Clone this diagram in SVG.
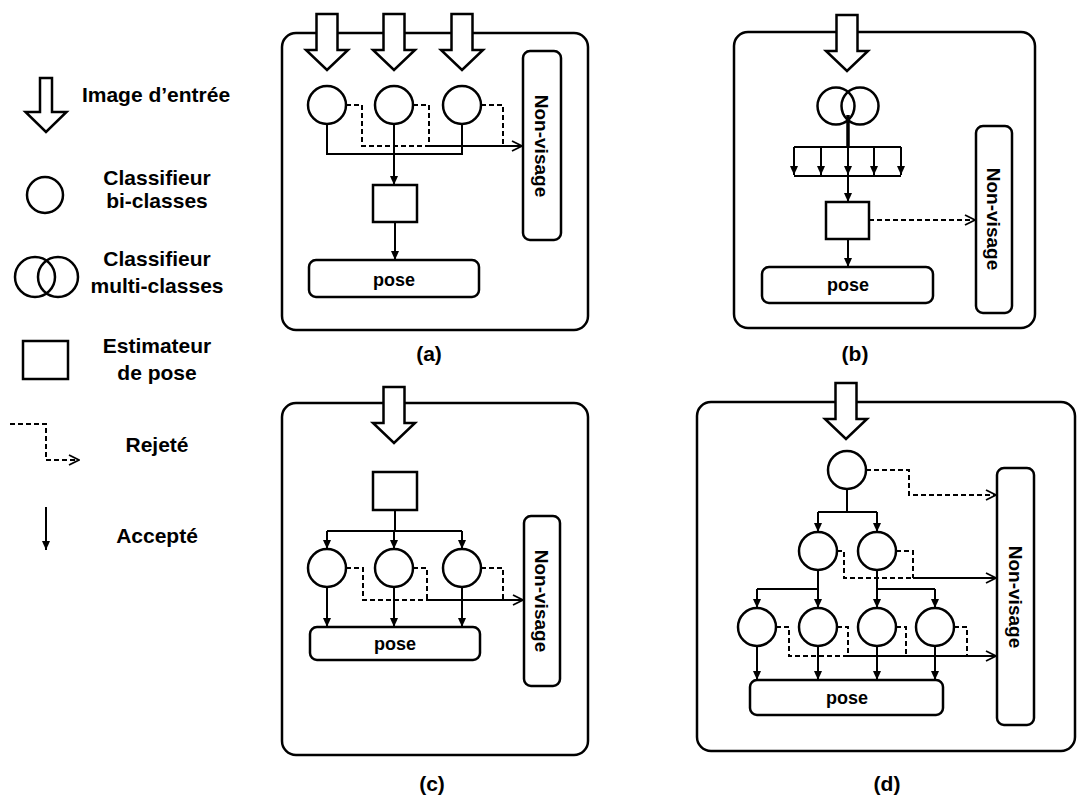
<svg xmlns="http://www.w3.org/2000/svg" width="1078" height="801" viewBox="0 0 1078 801">
<style>
.frame{fill:#fff;stroke:#000;stroke-width:2.5}
.sh{fill:#fff;stroke:#000;stroke-width:2.5}
.ln{fill:none;stroke:#000;stroke-width:2}
.dl{fill:none;stroke:#000;stroke-width:2;stroke-dasharray:5,3}
.fa{marker-end:url(#fa)}
.oa{marker-end:url(#oa)}
text{font-family:"Liberation Sans",Arial,Helvetica,sans-serif;font-weight:bold;fill:#000}
.lg{font-size:21px;text-anchor:middle}
.pl{font-size:18px;text-anchor:middle}
.nv{font-size:19px;text-anchor:middle}
.cap{font-size:21px;text-anchor:middle}
</style>
<defs>
<marker id="fa" viewBox="0 0 9 9" refX="9" refY="4.5" markerWidth="9" markerHeight="9" markerUnits="userSpaceOnUse" orient="auto"><path d="M0,0.5 L9,4.5 L0,8.5 Z" fill="#000"/></marker>
<marker id="oa" viewBox="0 0 12 12" refX="11" refY="6" markerWidth="12" markerHeight="12" markerUnits="userSpaceOnUse" orient="auto"><path d="M1,1 L11,6 L1,11" fill="none" stroke="#000" stroke-width="1.8"/></marker>
<path id="bigArrow" d="M-10.5,0 H10.5 V36 H21 L0,56 L-21,36 H-10.5 Z" class="sh"/>
</defs>

<!-- Legend -->
<g id="legend">
<g id="leg-input">
<path class="sh" d="M40,78 H52 V112 H66.5 L46,132 L25.5,112 H40 Z"/>
<text class="lg" x="156" y="102">Image d’entrée</text>
</g>
<g id="leg-bi">
<circle class="sh" cx="45" cy="195" r="18"/>
<text class="lg" x="157" y="185">Classifieur</text>
<text class="lg" x="157" y="208">bi-classes</text>
</g>
<g id="leg-multi">
<circle class="sh" cx="35" cy="277" r="20" fill="none" style="fill:none"/>
<circle class="sh" cx="58" cy="277" r="20" style="fill:none"/>
<text class="lg" x="157" y="266">Classifieur</text>
<text class="lg" x="157" y="293">multi-classes</text>
</g>
<g id="leg-est">
<rect class="sh" x="23" y="341" width="45" height="38"/>
<text class="lg" x="157" y="353">Estimateur</text>
<text class="lg" x="157" y="380">de pose</text>
</g>
<g id="leg-rej">
<path class="dl oa" d="M10,424 H46 V460 H79"/>
<text class="lg" x="157" y="452">Rejeté</text>
</g>
<g id="leg-acc">
<path class="ln fa" d="M46,507 V550"/>
<text class="lg" x="157" y="543">Accepté</text>
</g>
</g>

<!-- Panel (a) -->
<g id="panel-a">
<rect id="a-frame" class="frame" x="282" y="33" width="306" height="297" rx="14"/>
<g id="a-in1"><use href="#bigArrow" x="327" y="14"/></g>
<g id="a-in2"><use href="#bigArrow" x="394" y="14"/></g>
<g id="a-in3"><use href="#bigArrow" x="462" y="14"/></g>
<g id="a-c1"><circle class="sh" cx="327" cy="105" r="19"/></g>
<g id="a-c2"><circle class="sh" cx="394" cy="105" r="19"/></g>
<g id="a-c3"><circle class="sh" cx="462" cy="105" r="19"/></g>
<g id="a-est"><rect class="sh" x="373" y="185" width="44" height="37"/></g>
<g id="a-pose"><rect class="sh" x="309" y="260" width="170" height="37" rx="7"/><text class="pl" x="394" y="286">pose</text></g>
<g id="a-nv"><rect class="sh" x="523" y="51" width="38" height="189" rx="7"/><text class="nv" transform="translate(542,146) rotate(90)" x="0" y="7">Non-visage</text></g>
<text class="cap" x="429" y="361">(a)</text>
</g>

<!-- Panel (b) -->
<g id="panel-b">
<rect id="b-frame" class="frame" x="734" y="32" width="301" height="296" rx="14"/>
<g id="b-in"><use href="#bigArrow" x="847" y="15"/></g>
<g id="b-multi"><circle cx="836" cy="106" r="18.5" fill="none" stroke="#000" stroke-width="2.5"/><circle cx="860" cy="106" r="18.5" fill="none" stroke="#000" stroke-width="2.5"/></g>
<g id="b-est"><rect class="sh" x="826" y="202" width="43" height="37"/></g>
<g id="b-pose"><rect class="sh" x="762" y="267" width="171" height="36" rx="7"/><text class="pl" x="848" y="291">pose</text></g>
<g id="b-nv"><rect class="sh" x="976" y="126" width="36" height="187" rx="7"/><text class="nv" transform="translate(994,219) rotate(90)" x="0" y="7">Non-visage</text></g>
<text class="cap" x="855" y="361">(b)</text>
</g>

<!-- Panel (c) -->
<g id="panel-c">
<rect id="c-frame" class="frame" x="282" y="403" width="306" height="352" rx="14"/>
<g id="c-in"><use href="#bigArrow" x="394" y="387"/></g>
<g id="c-est"><rect class="sh" x="373" y="472" width="44" height="38"/></g>
<g id="c-c1"><circle class="sh" cx="327" cy="568" r="19"/></g>
<g id="c-c2"><circle class="sh" cx="394" cy="568" r="19"/></g>
<g id="c-c3"><circle class="sh" cx="462" cy="568" r="19"/></g>
<g id="c-pose"><rect class="sh" x="310" y="627" width="170" height="33" rx="7"/><text class="pl" x="395" y="650">pose</text></g>
<g id="c-nv"><rect class="sh" x="524" y="516" width="36" height="170" rx="7"/><text class="nv" transform="translate(542,601) rotate(90)" x="0" y="7">Non-visage</text></g>
<text class="cap" x="432" y="791">(c)</text>
</g>

<!-- Panel (d) -->
<g id="panel-d">
<rect id="d-frame" class="frame" x="697" y="402" width="378" height="349" rx="14"/>
<g id="d-in"><use href="#bigArrow" x="846" y="383"/></g>
<g id="d-c0"><circle class="sh" cx="847" cy="470" r="19"/></g>
<g id="d-c11"><circle class="sh" cx="818" cy="551" r="19"/></g>
<g id="d-c12"><circle class="sh" cx="877" cy="551" r="19"/></g>
<g id="d-c21"><circle class="sh" cx="757" cy="627" r="19"/></g>
<g id="d-c22"><circle class="sh" cx="818" cy="627" r="19"/></g>
<g id="d-c23"><circle class="sh" cx="877" cy="627" r="19"/></g>
<g id="d-c24"><circle class="sh" cx="935" cy="627" r="19"/></g>
<g id="d-pose"><rect class="sh" x="750" y="680" width="193" height="35" rx="7"/><text class="pl" x="847" y="704">pose</text></g>
<g id="d-nv"><rect class="sh" x="997" y="468" width="37" height="257" rx="7"/><text class="nv" transform="translate(1016,597) rotate(90)" x="0" y="7">Non-visage</text></g>
<text class="cap" x="887" y="791">(d)</text>
</g>

<!-- Connectors -->
<g id="connectors">
<!-- a -->
<path class="dl" d="M346,105 H362 V146 H429"/>
<path class="dl" d="M413,105 H429 V146"/>
<path class="dl" d="M481,105 H503 V146"/>
<path class="ln oa" d="M429,146 H522"/>
<path class="ln" d="M327,124 V154 H462 V124"/>
<path class="ln fa" d="M394,124 V185"/>
<path class="ln fa" d="M395,222 V260"/>
<!-- b -->
<path d="M848,115 V147" fill="none" stroke="#000" stroke-width="3.5"/>
<path class="ln" d="M794,147 H901"/>
<path class="ln" d="M794,176 H901"/>
<path class="ln fa" d="M794,147 V175"/>
<path class="ln fa" d="M821,147 V175"/>
<path class="ln fa" d="M848,147 V175"/>
<path class="ln fa" d="M874,147 V175"/>
<path class="ln fa" d="M901,147 V175"/>
<path class="ln fa" d="M848,176 V202"/>
<path class="dl oa" d="M869,220 H975"/>
<path class="ln fa" d="M848,239 V267"/>
<!-- c -->
<path class="ln" d="M395,510 V531"/>
<path class="ln" d="M327,531 H462"/>
<path class="ln fa" d="M327,531 V549"/>
<path class="ln fa" d="M394,531 V549"/>
<path class="ln fa" d="M462,531 V549"/>
<path class="dl" d="M346,568 H363 V600 H427"/>
<path class="dl" d="M413,568 H427 V600"/>
<path class="dl" d="M481,568 H503 V600"/>
<path class="ln oa" d="M427,600 H523"/>
<path class="ln fa" d="M327,587 V627"/>
<path class="ln fa" d="M394,587 V627"/>
<path class="ln fa" d="M462,587 V627"/>
<!-- d -->
<path class="dl oa" d="M866,470 H909 V495 H996"/>
<path class="ln" d="M847,489 V512"/>
<path class="ln" d="M818,512 H877"/>
<path class="ln fa" d="M818,512 V532"/>
<path class="ln fa" d="M877,512 V532"/>
<path class="dl" d="M837,551 H844 V578 H913"/>
<path class="dl" d="M896,551 H913 V578"/>
<path class="ln oa" d="M913,578 H996"/>
<path class="ln" d="M818,570 V589"/>
<path class="ln" d="M757,589 H818"/>
<path class="ln fa" d="M757,589 V608"/>
<path class="ln fa" d="M818,589 V608"/>
<path class="ln" d="M877,570 V589"/>
<path class="ln" d="M877,589 H935"/>
<path class="ln fa" d="M877,589 V608"/>
<path class="ln fa" d="M935,589 V608"/>
<path class="dl" d="M776,627 H789 V656 H848"/>
<path class="dl" d="M837,627 H848 V656"/>
<path class="dl" d="M896,627 H906 V656"/>
<path class="dl" d="M954,627 H967 V656"/>
<path class="ln oa" d="M848,656 H996"/>
<path class="ln fa" d="M757,646 V680"/>
<path class="ln fa" d="M818,646 V680"/>
<path class="ln fa" d="M877,646 V680"/>
<path class="ln fa" d="M935,646 V680"/>
</g>
</svg>
